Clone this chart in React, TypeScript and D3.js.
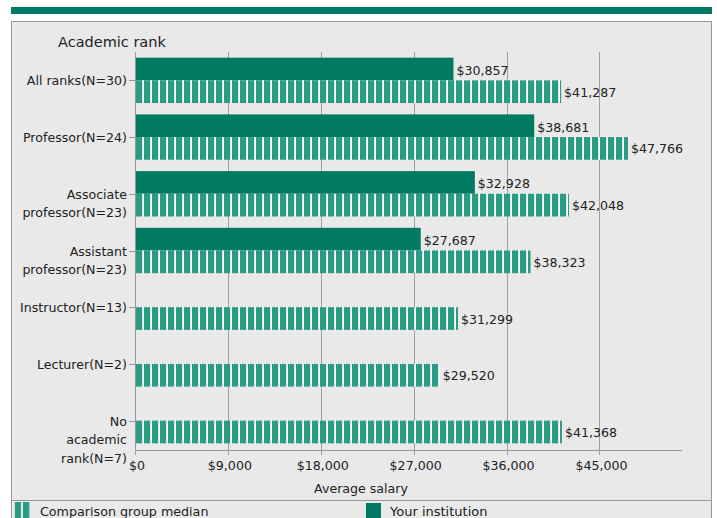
import { useEffect } from 'react';
import * as d3 from 'd3';

// Salary by academic rank
const rankLabels: string[][] = [
  ['All ranks(N=30)'],
  ['Professor(N=24)'],
  ['Associate', 'professor(N=23)'],
  ['Assistant', 'professor(N=23)'],
  ['Instructor(N=13)'],
  ['Lecturer(N=2)'],
  ['No', 'academic', 'rank(N=7)'],
];
const institution: (number | null)[] = [30857, 38681, 32928, 27687, null, null, null];
const comparison: number[] = [41287, 47766, 42048, 38323, 31299, 29520, 41368];
const xTicks = [0, 9000, 18000, 27000, 36000, 45000];

const W = 717;
const H = 518;
const DARK = '#007a62';
const STRIPE = '#2a9b85';
const BG = '#e9e9e9';
const FONT = 'DejaVu Sans, Verdana, sans-serif';
const FS = 12.6;

const fmt = d3.format('$,');

export default function App() {
  useEffect(() => {
    document.body.style.margin = '0';
  }, []);

  const x = d3.scaleLinear().domain([0, 53000]).range([135, 682]);
  const y = d3.scaleBand<number>()
    .domain(d3.range(rankLabels.length))
    .range([52, 449]);
  const bw = y.bandwidth();

  return (
    <svg width={W} height={H} style={{ display: 'block', fontFamily: FONT }}>
      <defs>
        <pattern id="stripes" patternUnits="userSpaceOnUse" x={136} y={0} width={8} height={8}>
          <rect width={8} height={8} fill="#ffffff" />
          <rect width={6.2} height={8} fill={STRIPE} />
        </pattern>
        <pattern id="stripes-legend" patternUnits="userSpaceOnUse" x={14.7} y={0} width={8.3} height={8}>
          <rect width={8.3} height={8} fill={BG} />
          <rect width={6.3} height={8} fill={STRIPE} />
        </pattern>
      </defs>

      <rect x={0} y={0} width={W} height={H} fill="#ffffff" />
      {/* top band */}
      <rect x={11} y={7} width={701} height={7} fill={DARK} />
      {/* panel */}
      <rect x={11.5} y={21.5} width={700} height={H} fill={BG} stroke="#999" strokeWidth={1} />

      <text x={58} y={43} fontSize={14.5} fill="#222" dominantBaseline="middle">Academic rank</text>

      {/* grid + x ticks */}
      {xTicks.map(t => (
        <g key={t}>
          <line x1={Math.round(x(t)) + 0.5} x2={Math.round(x(t)) + 0.5} y1={52} y2={455} stroke="#a0a0a0" strokeWidth={1} />
          <text x={x(t) + 2} y={465} fontSize={FS} fill="#222" textAnchor="middle" dominantBaseline="central">
            {fmt(t)}
          </text>
        </g>
      ))}

      {/* bars */}
      {rankLabels.map((_, i) => {
        const top = y(i)! + bw * 0.1;
        const mid = y(i)! + bw * 0.5;
        const bh = bw * 0.4;
        const inst = institution[i];
        const comp = comparison[i];
        return (
          <g key={i}>
            {inst != null && (
              <>
                <rect x={x(0)} y={top} width={x(inst) - x(0)} height={bh} fill={DARK} />
                <text x={x(inst) + 3} y={top + bh / 2 + 1.5} fontSize={FS} fill="#222" dominantBaseline="central">
                  {fmt(inst)}
                </text>
              </>
            )}
            <rect x={x(0)} y={mid} width={x(comp) - x(0)} height={bh} fill="url(#stripes)" />
            <text x={x(comp) + 3} y={mid + bh / 2 + 0.5} fontSize={FS} fill="#222" dominantBaseline="central">
              {fmt(comp)}
            </text>
          </g>
        );
      })}

      {/* axes */}
      <line x1={135.5} x2={135.5} y1={52} y2={450} stroke="#999" />
      <line x1={135} x2={682} y1={450.5} y2={450.5} stroke="#999" />

      {/* y ticks and labels */}
      {rankLabels.map((lines, i) => {
        const cy = y(i)! + bw / 2;
        return (
          <g key={i}>
            <line x1={129} x2={135} y1={Math.round(cy) + 0.5} y2={Math.round(cy) + 0.5} stroke="#999" />
            {lines.map((ln, j) => (
              <text key={j} x={127} y={cy + 0.5 + j * 18.5} fontSize={FS} fill="#222" textAnchor="end" dominantBaseline="central">
                {ln}
              </text>
            ))}
          </g>
        );
      })}

      <text x={361} y={488} fontSize={FS} fill="#222" textAnchor="middle" dominantBaseline="central">Average salary</text>

      {/* legend */}
      <line x1={11} x2={712} y1={500.5} y2={500.5} stroke="#999" />
      <rect x={14.7} y={502} width={15.5} height={18} fill="url(#stripes-legend)" />
      <text x={40} y={511} fontSize={12.7} fill="#222" dominantBaseline="central">Comparison group median</text>
      <rect x={366} y={503} width={15} height={18} fill={DARK} />
      <text x={390} y={511} fontSize={13} fill="#222" dominantBaseline="central">Your institution</text>
    </svg>
  );
}
